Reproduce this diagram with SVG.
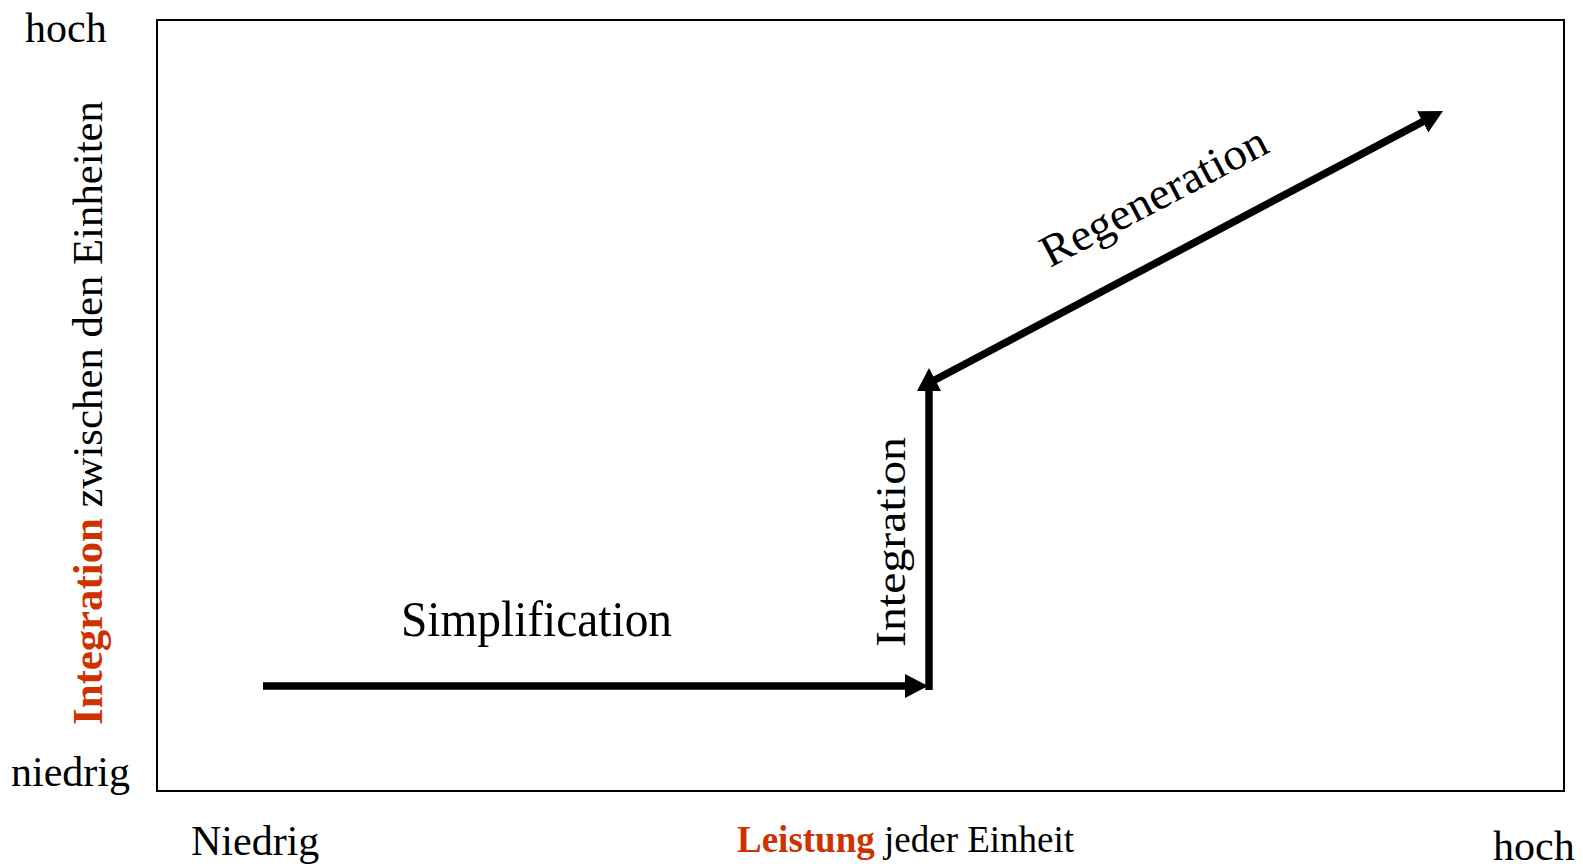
<svg xmlns="http://www.w3.org/2000/svg" width="1583" height="868" viewBox="0 0 1583 868">
  <style>
    .t { font-family: "Liberation Serif", "Times New Roman", serif; fill: #000; }
    .red { fill: #CC3300; font-weight: bold; }
    .flow { stroke: #000; stroke-width: 7.5; fill: none; marker-end: url(#head); }
  </style>
  <defs>
    <marker id="head" markerUnits="userSpaceOnUse" markerWidth="24" markerHeight="25" refX="3" refY="12" orient="auto">
      <path d="M0,0 L23,12 L0,24 z" fill="#000"/>
    </marker>
  </defs>
  <rect width="1583" height="868" fill="#fff"/>

  <!-- chart frame -->
  <g id="frame">
    <rect x="157" y="20" width="1407" height="771" fill="none" stroke="#000" stroke-width="2"/>
  </g>

  <!-- axis labels -->
  <g id="axis-y">
    <text class="t" x="25" y="42" font-size="42">hoch</text>
    <text class="t" x="11" y="786" font-size="42">niedrig</text>
    <text class="t" font-size="43" transform="translate(102,725) rotate(-90)" textLength="624" lengthAdjust="spacingAndGlyphs"><tspan class="red">Integration</tspan> zwischen den Einheiten</text>
  </g>
  <g id="axis-x">
    <text class="t" x="191" y="855" font-size="42">Niedrig</text>
    <text class="t" x="737" y="852" font-size="37"><tspan class="red">Leistung</tspan> jeder Einheit</text>
    <text class="t" x="1493" y="860" font-size="42">hoch</text>
  </g>

  <!-- path arrows -->
  <g id="connectors">
    <line class="flow" x1="263" y1="686" x2="908" y2="686"/>
    <line class="flow" x1="929" y1="690" x2="929" y2="388"/>
    <line class="flow" x1="931" y1="382" x2="1425.3" y2="120.4"/>
  </g>

  <!-- stage labels -->
  <g id="simplification">
    <text class="t" x="401" y="636" font-size="51" textLength="271" lengthAdjust="spacingAndGlyphs">Simplification</text>
  </g>
  <g id="integration">
    <text class="t" font-size="42" transform="translate(905,647) rotate(-90)" textLength="210" lengthAdjust="spacingAndGlyphs">Integration</text>
  </g>
  <g id="regeneration">
    <text class="t" font-size="45" transform="translate(1050,268) rotate(-27.8)" textLength="250" lengthAdjust="spacingAndGlyphs">Regeneration</text>
  </g>
</svg>
